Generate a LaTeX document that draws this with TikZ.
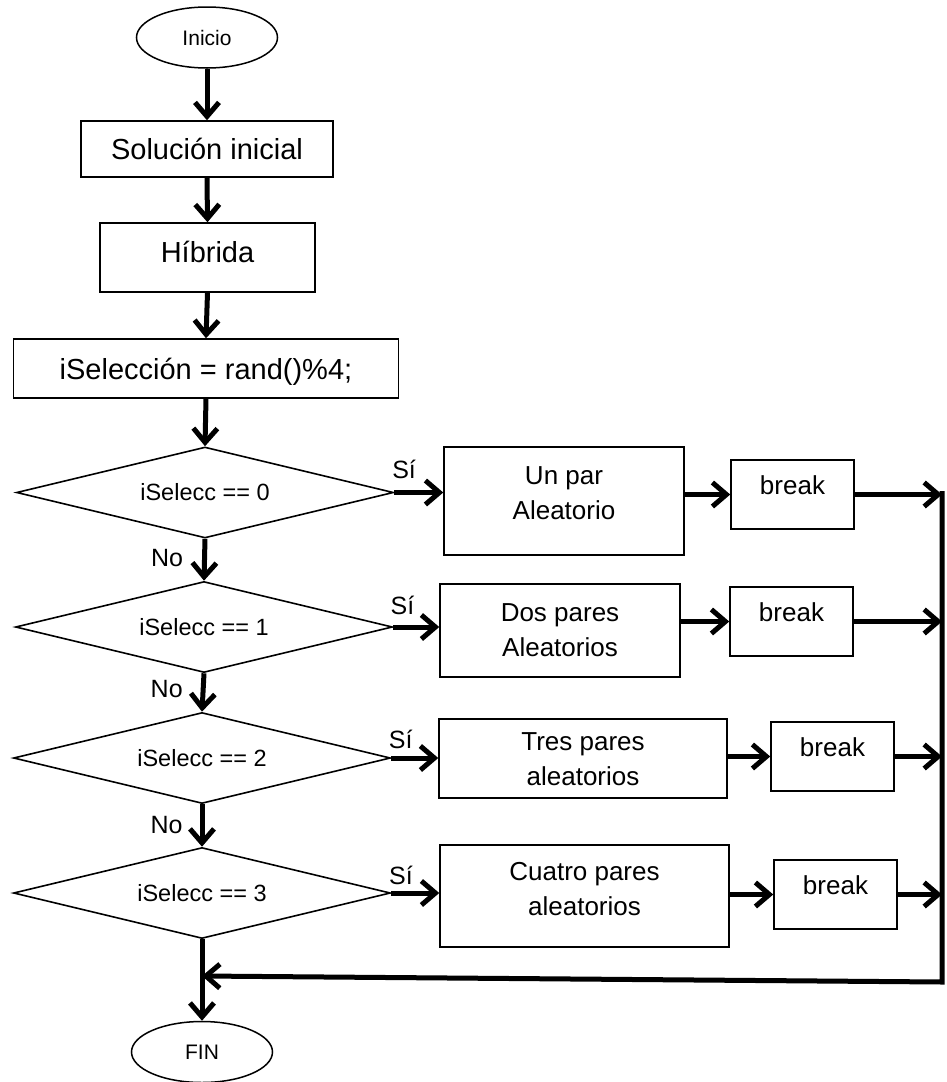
\documentclass[tikz,border=0pt]{standalone}
\usepackage{fontspec}
\setmainfont{Liberation Sans}
\usetikzlibrary{shapes.geometric,arrows.meta}

\begin{document}
\begin{tikzpicture}[x=1pt,y=-1pt,line join=miter,
  caja/.style={draw,line width=1.5pt,inner sep=0pt,align=center},
  grande/.style={caja,font=\fontsize{29}{34}\selectfont,text height=21pt,text depth=0pt},
  paso/.style={caja,font=\fontsize{26}{35}\selectfont,text height=54pt},
  brk/.style={caja,font=\fontsize{26}{35}\selectfont,text height=18pt,text depth=18pt,minimum width=123pt,minimum height=69pt},
  decision/.style={diamond,draw,line width=1.6pt,aspect=4,inner sep=0pt,minimum width=377pt,minimum height=91pt,font=\fontsize{23.5}{28}\selectfont},
  extremo/.style={ellipse,draw,line width=1.5pt,minimum width=141pt,minimum height=61pt,inner sep=0pt,font=\fontsize{21}{25}\selectfont},
  flecha/.style={line width=5pt,-{Straight Barb[length=14pt,width=24pt]}},
  etiq/.style={inner sep=0pt,font=\fontsize{25}{30}\selectfont}]
\useasboundingbox (0,0) rectangle (947,1082);

% columna principal
\node[extremo] (inicio) at (207,37.5) {Inicio};
\node[grande,minimum width=252pt,minimum height=56pt] (sol) at (207,149) {Solución inicial};
\node[grande,minimum width=215pt,minimum height=69pt,text depth=11pt] (hib) at (207.5,257.5) {Híbrida};
\node[grande,minimum width=385pt,minimum height=59pt] (sel) at (206,368.5) {iSelección = rand()\%4;};

\node[decision] (d0) at (205,492.5) {iSelecc == 0};
\node[decision] (d1) at (204,627) {iSelecc == 1};
\node[decision] (d2) at (202,758) {iSelecc == 2};
\node[decision] (d3) at (202,893) {iSelecc == 3};

\node[extremo] (fin) at (202,1052) {FIN};

% casos
\node[paso,minimum width=240pt,minimum height=108pt,text depth=17pt] (a0) at (564,501) {Un par\\Aleatorio};
\node[paso,minimum width=240pt,minimum height=93pt,text depth=2pt] (a1) at (560,630.5) {Dos pares\\Aleatorios};
\node[paso,minimum width=288pt,minimum height=79pt,text depth=-6pt] (a2) at (583,758.5) {Tres pares\\aleatorios};
\node[paso,minimum width=289pt,minimum height=102pt,text depth=16pt] (a3) at (584.5,896) {Cuatro pares\\aleatorios};

\node[brk] (b0) at (792.5,494.5) {break};
\node[brk] (b1) at (791.5,621.5) {break};
\node[brk] (b2) at (832.5,756.5) {break};
\node[brk] (b3) at (835.5,894.5) {break};

\coordinate (c0) at (942,491);
\coordinate (c1) at (942,982);
\coordinate (m) at (202,976);

% flechas
\draw[flecha] (inicio.south) -- (sol.north);
\draw[flecha] (sol.south) -- (hib.north);
\draw[flecha] (hib.south) -- (sel.north);
\draw[flecha] (sel.south) -- (d0.north);
\draw[flecha] (d0.south) -- node[etiq,pos=.45,left=19pt] (no0) {No} (d1.north);
\draw[flecha] (d1.south) -- node[etiq,pos=.4,left=18pt] (no1) {No} (d2.north);
\draw[flecha] (d2.south) -- node[etiq,pos=.5,left=17pt] (no2) {No} (d3.north);
\draw[flecha] (d3.south) -- (fin.north);

\draw[flecha] (d0.east) -- node[etiq,pos=.2,above=11pt] (si0) {Sí} (d0.east -| a0.west);
\draw[flecha] (d1.east) -- node[etiq,pos=.2,above=10pt] (si1) {Sí} (d1.east -| a1.west);
\draw[flecha] (d2.east) -- node[etiq,pos=.2,above=7pt] (si2) {Sí} (d2.east -| a2.west);
\draw[flecha] (d3.east) -- node[etiq,pos=.2,above=6pt] (si3) {Sí} (d3.east -| a3.west);

\draw[flecha] (b0.west -| a0.east) -- (b0.west);
\draw[flecha] (b1.west -| a1.east) -- (b1.west);
\draw[flecha] (b2.west -| a2.east) -- (b2.west);
\draw[flecha] (b3.west -| a3.east) -- (b3.west);

\draw[flecha] (b0.east) -- (b0.east -| c0);
\draw[flecha] (b1.east) -- (b1.east -| c0);
\draw[flecha] (b2.east) -- (b2.east -| c0);
\draw[flecha] (b3.east) -- (b3.east -| c0);

\draw[flecha] (c0) -- (c1) -- (m);
\end{tikzpicture}
\end{document}
